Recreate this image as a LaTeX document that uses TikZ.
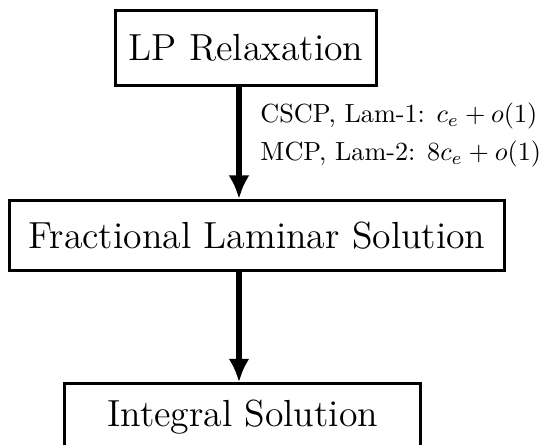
\documentclass[tikz,border=0pt]{standalone}
\usepackage{amsmath,amssymb}
\usepackage{tikz}
\usetikzlibrary{arrows.meta,positioning,calc}

\begin{document}
\begin{tikzpicture}[x=1pt,y=1pt,
    stage/.style={draw,line width=1.2pt,font=\Large,inner sep=0pt},
    flow/.style={line width=2.3pt,-{Latex[length=9pt,width=8pt]}},
    note/.style={anchor=base west,inner sep=0pt}]
\useasboundingbox (0,0) rectangle (207.6,-169.5);
% the three stages
\node[stage,minimum width=99.6pt,minimum height=28.6pt] (lp) at (93.9,-18.3) {LP Relaxation};
\node[stage,minimum width=188.8pt,minimum height=26.7pt] (frac) at (98.1,-89.9) {Fractional Laminar Solution};
\node[stage,minimum width=135.8pt,minimum height=25pt,anchor=north] (int) at (92.6,-145.9) {Integral Solution};
% arrows
\coordinate (axis) at (91.2,0);
\draw[flow] (axis |- lp.south) -- (axis |- frac.north);
\draw[flow] (axis |- frac.south) -- (axis |- int.north);
\node[note] (lab1) at (99.2,-46.6) {CSCP, Lam-1: $c_e+o(1)$};
\node[note] (lab2) at (99.2,-61.1) {MCP, Lam-2: $8c_e+o(1)$};
\end{tikzpicture}
\end{document}
